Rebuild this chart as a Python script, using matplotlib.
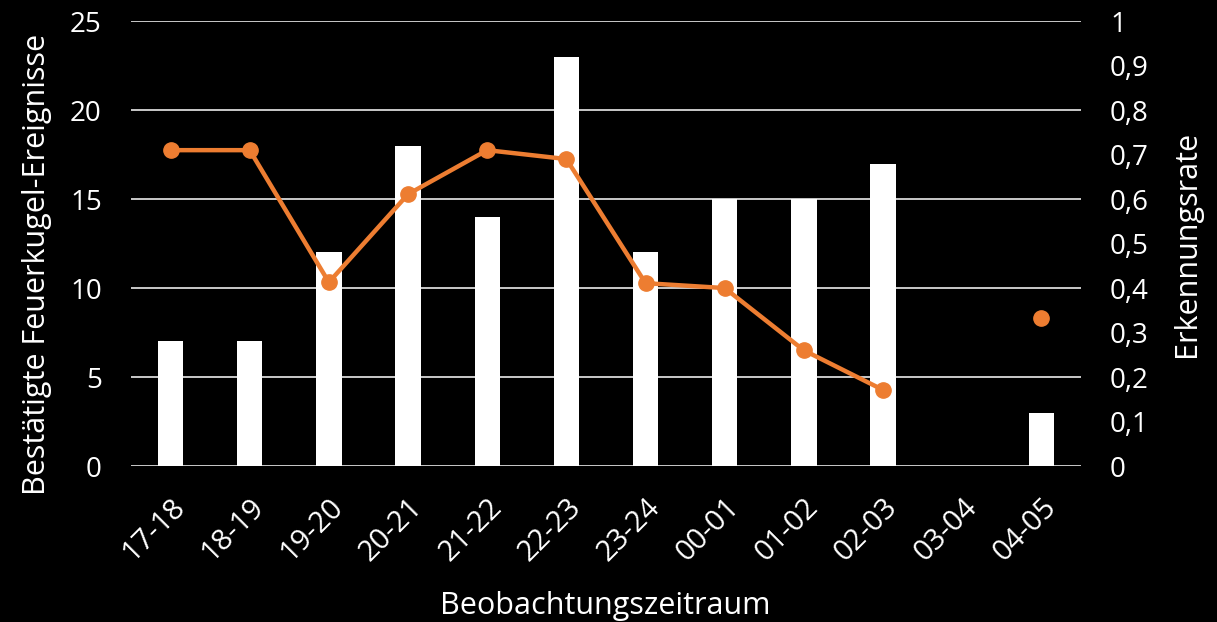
import numpy as np
import matplotlib.pyplot as plt
from matplotlib.ticker import FuncFormatter

plt.rcParams['font.family'] = ['Open Sans', 'DejaVu Sans']

# data
zeitraum = ["17-18", "18-19", "19-20", "20-21", "21-22", "22-23",
            "23-24", "00-01", "01-02", "02-03", "03-04", "04-05"]
ereignisse = [7, 7, 12, 18, 14, 23, 12, 15, 15, 17, 0, 3]
rate = [0.71, 0.71, 0.413, 0.611, 0.71, 0.69, 0.411, 0.40, 0.26, 0.171, np.nan, 0.333]

fg = "white"
grid_col = "#d9d9d9"
orange = "#ED7D31"

fig = plt.figure(figsize=(12.17, 6.22), dpi=100, facecolor="black")
ax = fig.add_axes([0.1076, 0.2508, 0.7806, 0.7152])
ax.set_facecolor("black")
x = np.arange(len(zeitraum))

ax.bar(x, ereignisse, width=0.32, color=fg, zorder=2)
ax.set_ylim(0, 25)
ax.set_xlim(-0.5, len(zeitraum) - 0.5)
ax.set_yticks(range(0, 26, 5))
ax.grid(axis="y", color=grid_col, linewidth=1.3, zorder=0)
ax.set_axisbelow(True)
ax.set_xticks(x)
ax.set_xticklabels(zeitraum, rotation=45, ha="right", rotation_mode="anchor")
ax.tick_params(colors=fg, labelsize=20, length=0, pad=21)
ax.tick_params(axis="x", labelsize=21, pad=19)
for s in ax.spines.values():
    s.set_visible(False)
ax.set_ylabel("Bestätigte Feuerkugel-Ereignisse", color=fg, fontsize=22)
ax.yaxis.set_label_coords(-0.083, 0.452)
ax.set_xlabel("Beobachtungszeitraum", color=fg, fontsize=22)
ax.xaxis.set_label_coords(0.499, -0.281)

ax2 = ax.twinx()
ax2.plot(x, rate, color=orange, linewidth=3.2, marker="o", markersize=11, zorder=3)
ax2.set_ylim(0, 1)
ax2.set_yticks(np.arange(0, 1.01, 0.1))
ax2.yaxis.set_major_formatter(FuncFormatter(lambda v, p: ("%g" % round(v, 1)).replace(".", ",")))
ax2.tick_params(colors=fg, labelsize=20, length=0, pad=21)
for s in ax2.spines.values():
    s.set_visible(False)
ax2.set_ylabel("Erkennungsrate", color=fg, fontsize=22)
ax2.yaxis.set_label_coords(1.096, 0.5)

fig.savefig("out.png", dpi=100, facecolor="black")
